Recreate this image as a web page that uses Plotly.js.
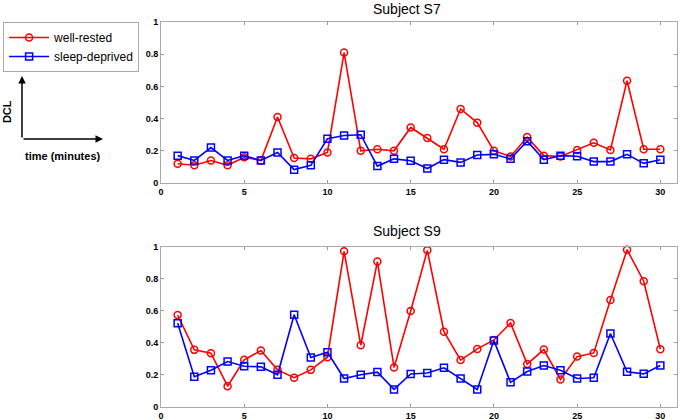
<!DOCTYPE html>
<html>
<head>
<meta charset="utf-8">
<script src="https://cdn.plot.ly/plotly-3.0.1.min.js"></script>
<style>
	html, body { margin: 0; padding: 0; background: #fff; }
	#graph { width: 680px; height: 420px; }
</style>
</head>
<body>
<div id="graph"></div>
<script>
/* global Plotly */

const minutes = [];
for (let m = 1; m <= 30; ++m) {
	minutes.push(m);
}

// Subject S7
const s7Rested = [
	0.12, 0.11, 0.14, 0.11, 0.16, 0.14, 0.41, 0.155, 0.15, 0.19,
	0.81, 0.2, 0.21, 0.2, 0.345, 0.28, 0.21, 0.46, 0.375, 0.2,
	0.165, 0.285, 0.17, 0.165, 0.205, 0.25, 0.205, 0.635, 0.21, 0.21,
];
const s7Deprived = [
	0.17, 0.14, 0.22, 0.14, 0.17, 0.14, 0.19, 0.083, 0.11, 0.275,
	0.295, 0.3, 0.105, 0.15, 0.138, 0.09, 0.145, 0.128, 0.174, 0.178,
	0.15, 0.26, 0.145, 0.17, 0.166, 0.133, 0.133, 0.178, 0.122, 0.145,
];

// Subject S9
const s9Rested = [
	0.575, 0.357, 0.336, 0.13, 0.295, 0.353, 0.232, 0.183, 0.232, 0.311,
	0.973, 0.386, 0.909, 0.247, 0.6, 0.979, 0.471, 0.293, 0.363, 0.419,
	0.525, 0.268, 0.359, 0.172, 0.315, 0.338, 0.668, 0.983, 0.786, 0.361,
];
const s9Deprived = [
	0.523, 0.189, 0.23, 0.284, 0.255, 0.251, 0.201, 0.577, 0.309, 0.342,
	0.178, 0.201, 0.218, 0.11, 0.206, 0.212, 0.245, 0.178, 0.11, 0.415,
	0.154, 0.222, 0.259, 0.23, 0.178, 0.183, 0.459, 0.22, 0.207, 0.259,
];

const seriesNames = ["well-rested", "sleep-deprived"];
const xTicks = [0, 5, 10, 15, 20, 25, 30];
const yTicks = [0, 0.2, 0.4, 0.6, 0.8, 1];
const yTickText = ["0", "0.2", "0.4", "0.6", "0.8", "1"];

const RED = "#ff0000";
const BLUE = "#0000ff";
const FONT = "Arial, Liberation Sans, sans-serif";

function makeTrace(y, { name, color, symbol, axis, showlegend }) {
	return {
		x: minutes,
		y,
		name,
		type: "scatter",
		mode: "lines+markers",
		line: { color, width: 1.6 },
		marker: { symbol, size: 7, color, line: { color, width: 1.5 } },
		xaxis: "x" + axis,
		yaxis: "y" + axis,
		showlegend,
		cliponaxis: false,
	};
}

const traces = [
	makeTrace(s7Rested, { name: seriesNames[0], color: RED, symbol: "circle-open", axis: "", showlegend: true }),
	makeTrace(s7Deprived, { name: seriesNames[1], color: BLUE, symbol: "square-open", axis: "", showlegend: true }),
	makeTrace(s9Rested, { name: seriesNames[0], color: RED, symbol: "circle-open", axis: "2", showlegend: false }),
	makeTrace(s9Deprived, { name: seriesNames[1], color: BLUE, symbol: "square-open", axis: "2", showlegend: false }),
];

const tickFont = { family: FONT, size: 9, color: "#000", weight: "bold" };

function xAxis(anchor) {
	return {
		anchor,
		domain: [0, 1],
		range: [0, 31],
		tickvals: xTicks,
		ticks: "inside",
		ticklen: 3,
		tickcolor: "#999",
		showline: true,
		linecolor: "#aaa",
		linewidth: 1,
		mirror: "ticks",
		showgrid: false,
		zeroline: false,
		tickfont: tickFont,
		fixedrange: true,
	};
}

function yAxis(anchor, domain) {
	return {
		anchor,
		domain,
		range: [0, 1],
		tickvals: yTicks,
		ticktext: yTickText,
		ticks: "inside",
		ticklen: 3,
		tickcolor: "#999",
		showline: true,
		linecolor: "#aaa",
		linewidth: 1,
		mirror: "ticks",
		showgrid: false,
		zeroline: false,
		tickfont: tickFont,
		fixedrange: true,
	};
}

const labelFont = { family: FONT, size: 11, color: "#000", weight: "bold" };
const titleFont = { family: FONT, size: 14, color: "#000" };

const annotations = [
	{
		text: "Subject S7",
		xref: "paper", yref: "paper",
		x: 0.4767, y: 1.034,
		xanchor: "center", yanchor: "middle",
		showarrow: false,
		font: titleFont,
	},
	{
		text: "Subject S9",
		xref: "paper", yref: "paper",
		x: 0.4767, y: 0.457,
		xanchor: "center", yanchor: "middle",
		showarrow: false,
		font: titleFont,
	},
	// little axis sketch next to the legend
	{
		text: "",
		xref: "paper", yref: "paper",
		x: -0.2694, y: 0.8597,
		ax: 0, ay: 63,
		showarrow: true,
		arrowhead: 2,
		arrowsize: 1,
		arrowwidth: 1.5,
		arrowcolor: "#000",
		standoff: 0,
		startstandoff: 0,
	},
	{
		text: "",
		xref: "paper", yref: "paper",
		x: -0.1124, y: 0.6961,
		ax: -81, ay: 0,
		showarrow: true,
		arrowhead: 2,
		arrowsize: 1,
		arrowwidth: 1.5,
		arrowcolor: "#000",
		standoff: 0,
		startstandoff: 0,
	},
	{
		text: "DCL",
		xref: "paper", yref: "paper",
		x: -0.2984, y: 0.766,
		xanchor: "center", yanchor: "middle",
		textangle: -90,
		showarrow: false,
		font: labelFont,
	},
	{
		text: "time (minutes)",
		xref: "paper", yref: "paper",
		x: -0.19, y: 0.652,
		xanchor: "center", yanchor: "middle",
		showarrow: false,
		font: labelFont,
	},
];

const layout = {
	width: 680,
	height: 420,
	margin: { l: 161, r: 3, t: 22, b: 13 },
	paper_bgcolor: "#fff",
	plot_bgcolor: "#fff",
	showlegend: true,
	legend: {
		x: -0.306,
		y: 1,
		xanchor: "left",
		yanchor: "top",
		bordercolor: "#aaa",
		borderwidth: 1,
		bgcolor: "#fff",
		font: { family: FONT, size: 12, color: "#000" },
		itemwidth: 40,
		tracegroupgap: 0,
	},
	xaxis: xAxis("y"),
	yaxis: yAxis("x", [0.5818, 1]),
	xaxis2: xAxis("y2"),
	yaxis2: yAxis("x2", [0, 0.4156]),
	annotations,
};

const config = { displayModeBar: false, staticPlot: true };

Plotly.newPlot("graph", traces, layout, config);
</script>
</body>
</html>
